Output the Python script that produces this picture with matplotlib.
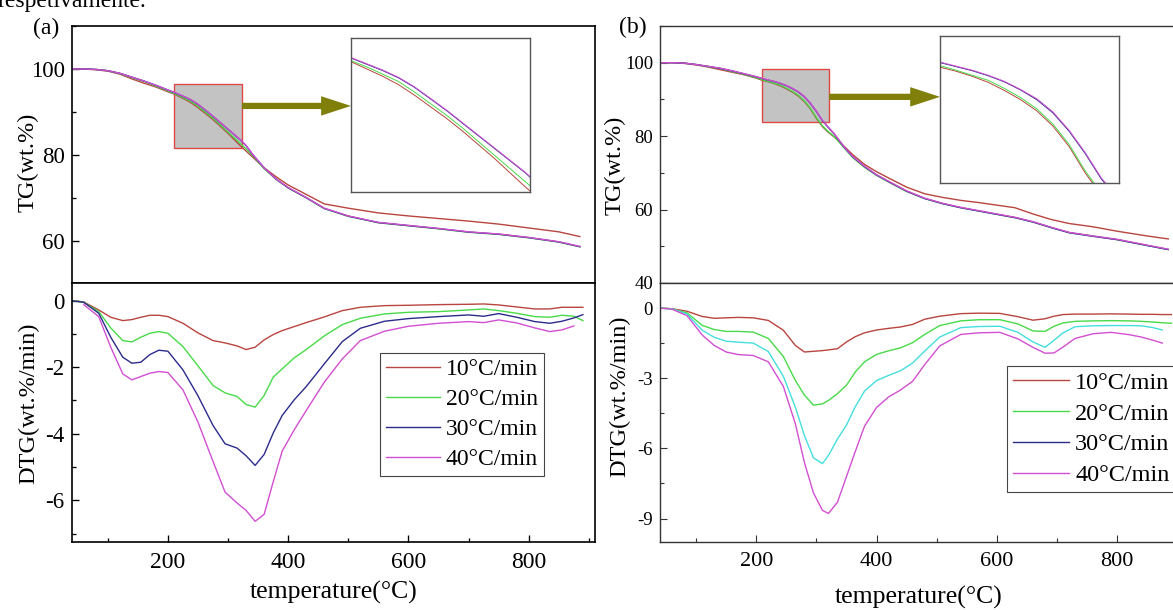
import numpy as np
import matplotlib
matplotlib.use("Agg")
import matplotlib.pyplot as plt
from matplotlib.patches import Rectangle, FancyArrowPatch
from matplotlib.lines import Line2D
from matplotlib.ticker import MultipleLocator

plt.rcParams['font.family'] = ['Liberation Serif', 'DejaVu Serif']
plt.rcParams['axes.unicode_minus'] = False

nan = np.nan

rates = ['10°C/min', '20°C/min', '30°C/min', '40°C/min']
colors = ['#b8453f', '#48da48', '#2b2b8c', '#d24fd2'] # 10, 20, 30, 40 C/min
cyan = '#45dede' # 30 C/min DTG curve in (b)

# ---- (a) TG ----
temp_a_tg = [40, 60, 80, 100, 120, 140, 160, 180, 200, 210, 220, 230, 240, 250, 260, 270, 280, 290, 300,
             310, 320, 330, 340, 360, 380, 400, 430, 460, 500, 550, 600, 650, 700, 750, 800, 850, 885]
tg_a_10 = [100, 100, 99.8, 99.5, 98.8, 97.7, 96.7, 95.8, 94.7, 94.2, 93.5, 92.8, 92.0, 91.0, 89.9, 88.8, 87.6, 86.3, 85.0,
           83.6, 82.2, 80.9, 79.6, 77.0, 74.9, 73.0, 70.8, 68.6, 67.6, 66.5, 65.8, 65.2, 64.6, 63.9, 63.0, 62.1, 61.0]
tg_a_20 = [100, 100, 99.9, 99.6, 98.9, 98.0, 97.1, 96.0, 94.9, 94.3, 93.7, 93.0, 92.3, 91.3, 90.2, 89.1, 87.9, 86.6, 85.3,
           84.0, 82.7, 81.4, 80.0, 76.8, 74.3, 72.3, 70.0, 67.5, 65.7, 64.2, 63.5, 62.8, 62.0, 61.5, 60.7, 59.7, 58.6]
tg_a_30 = [100, 100, 99.9, 99.6, 99.0, 98.1, 97.2, 96.2, 95.1, 94.55, 93.95, 93.35, 92.65, 91.75, 90.65, 89.55, 88.35, 87.15, 85.95,
           84.75, 83.55, 82.15, 80.25, 76.95, 74.35, 72.35, 70.05, 67.55, 65.75, 64.25, 63.55, 62.85, 62.05, 61.55, 60.75, 59.75, 58.65]
tg_a_40 = [100, 100, 99.9, 99.6, 99.0, 98.1, 97.2, 96.2, 95.1, 94.6, 94.0, 93.4, 92.7, 91.8, 90.7, 89.6, 88.4, 87.2, 86.0,
           84.8, 83.6, 82.2, 80.3, 77.0, 74.4, 72.4, 70.1, 67.6, 65.8, 64.3, 63.6, 62.9, 62.1, 61.6, 60.8, 59.8, 58.7]

# ---- (a) DTG ----
temp_a_dtg = [40, 60, 85, 105, 125, 140, 155, 170, 185, 200, 225, 250, 275, 295, 315, 330, 345, 360, 375,
              390, 410, 430, 460, 490, 520, 560, 600, 650, 700, 725, 750, 780, 810, 835, 855, 875, 890]
dtg_a_10 = [0, -0.04, -0.28, -0.5, -0.6, -0.57, -0.5, -0.44, -0.44, -0.48, -0.68, -0.97, -1.2, -1.27, -1.36, -1.47, -1.4, -1.18, -1.02,
            -0.9, -0.78, -0.66, -0.49, -0.3, -0.2, -0.15, -0.14, -0.12, -0.11, -0.1, -0.13, -0.19, -0.25, -0.25, -0.2, -0.2, -0.2]
dtg_a_20 = [0, -0.05, -0.33, -0.82, -1.2, -1.24, -1.1, -0.98, -0.93, -0.98, -1.38, -1.96, -2.55, -2.77, -2.88, -3.12, -3.2, -2.85, -2.3,
            -2.05, -1.72, -1.47, -1.06, -0.72, -0.53, -0.4, -0.35, -0.33, -0.28, -0.25, -0.3, -0.38, -0.48, -0.5, -0.44, -0.47, -0.6]
dtg_a_30 = [0, -0.05, -0.38, -1.1, -1.7, -1.88, -1.85, -1.62, -1.49, -1.52, -2.08, -2.86, -3.75, -4.3, -4.43, -4.66, -4.95, -4.62, -3.98,
            -3.45, -2.98, -2.58, -1.9, -1.23, -0.83, -0.62, -0.54, -0.48, -0.43, -0.47, -0.39, -0.5, -0.63, -0.68, -0.62, -0.52, -0.42]
dtg_a_40 = [nan, -0.12, -0.48, -1.4, -2.2, -2.38, -2.28, -2.18, -2.13, -2.16, -2.68, -3.65, -4.83, -5.75, -6.08, -6.3, -6.63, -6.42, -5.45,
            -4.52, -3.88, -3.3, -2.45, -1.75, -1.2, -0.92, -0.77, -0.68, -0.63, -0.66, -0.58, -0.67, -0.82, -0.93, -0.88, -0.76, nan]

# ---- (b) TG ----
temp_b_tg = [40, 60, 80, 100, 120, 140, 160, 180, 200, 210, 220, 230, 240, 250, 260, 270, 280, 290, 300, 310, 320,
             330, 345, 360, 380, 400, 420, 450, 480, 510, 540, 570, 600, 630, 660, 690, 720, 760, 800, 850, 885]
tg_b_10 = [100, 100, 99.8, 99.4, 98.8, 98.1, 97.4, 96.7, 95.8, 95.2, 94.8, 94.3, 93.7, 92.9, 92.0, 90.9, 89.4, 87.4, 84.8, 82.6, 81.0,
           79.7, 77.4, 75.0, 72.3, 70.3, 68.6, 66.1, 64.3, 63.3, 62.5, 61.9, 61.2, 60.5, 58.8, 57.3, 56.2, 55.3, 54.1, 52.8, 52.0]
tg_b_20 = [100, 100, 99.9, 99.5, 98.9, 98.4, 97.6, 96.8, 95.9, 95.35, 94.9, 94.4, 93.9, 93.1, 92.2, 91.1, 89.6, 87.6, 85.0, 82.8, 81.2,
           79.8, 77.0, 74.2, 71.5, 69.3, 67.5, 64.9, 63.0, 61.6, 60.5, 59.6, 58.7, 57.8, 56.6, 55.1, 53.7, 52.8, 51.8, 50.2, 49.1]
tg_b_30 = [100, 100, 99.9, 99.5, 99.0, 98.45, 97.75, 96.95, 96.15, 95.65, 95.25, 94.85, 94.35, 93.75, 92.95, 92.0, 90.7, 88.9, 86.7, 84.2, 82.3,
           80.5, 77.2, 74.4, 71.7, 69.4, 67.6, 65.0, 63.0, 61.6, 60.5, 59.6, 58.7, 57.8, 56.6, 55.1, 53.7, 52.7, 51.8, 50.2, 49.1]
tg_b_40 = [100, 100, 99.9, 99.5, 99.0, 98.5, 97.8, 97.0, 96.2, 95.7, 95.3, 94.9, 94.4, 93.8, 93.0, 92.1, 90.8, 89.0, 86.8, 84.3, 82.4,
           80.6, 77.3, 74.5, 71.8, 69.5, 67.7, 65.1, 63.1, 61.7, 60.6, 59.7, 58.8, 57.9, 56.7, 55.2, 53.8, 52.8, 51.9, 50.3, 49.2]

# ---- (b) DTG ----
temp_b_dtg = [40, 60, 85, 110, 130, 150, 170, 195, 220, 245, 265, 280, 295, 310, 320, 335, 350, 365, 380, 400, 420,
              440, 460, 480, 505, 540, 570, 605, 635, 660, 680, 695, 710, 730, 760, 790, 820, 840, 860, 875, 890]
dtg_b_10 = [0, -0.03, -0.14, -0.36, -0.44, -0.42, -0.4, -0.42, -0.53, -0.95, -1.6, -1.88, -1.85, -1.82, -1.79, -1.74, -1.45, -1.22, -1.06, -0.94, -0.87,
            -0.81, -0.7, -0.48, -0.35, -0.24, -0.22, -0.23, -0.37, -0.52, -0.46, -0.35, -0.28, -0.26, -0.26, -0.25, -0.26, -0.27, -0.27, -0.28, -0.28]
dtg_b_20 = [0, -0.04, -0.21, -0.74, -0.92, -1.0, -1.0, -1.03, -1.3, -2.07, -3.1, -3.72, -4.15, -4.1, -3.95, -3.66, -3.3, -2.72, -2.3, -1.98, -1.83,
            -1.7, -1.48, -1.13, -0.75, -0.55, -0.5, -0.5, -0.68, -0.98, -1.0, -0.78, -0.64, -0.57, -0.55, -0.54, -0.55, -0.57, -0.6, -0.63, -0.65]
dtg_b_30 = [0, -0.04, -0.26, -0.95, -1.25, -1.42, -1.46, -1.5, -1.86, -2.92, -4.24, -5.45, -6.4, -6.65, -6.3, -5.6, -5.0, -4.2, -3.55, -3.1, -2.88,
            -2.68, -2.35, -1.84, -1.24, -0.84, -0.79, -0.78, -1.04, -1.45, -1.68, -1.38, -1.06, -0.8, -0.76, -0.75, -0.75, -0.76, -0.84, -0.94, nan]
dtg_b_40 = [0, -0.05, -0.33, -1.15, -1.6, -1.88, -1.99, -2.03, -2.3, -3.35, -4.95, -6.6, -7.9, -8.65, -8.78, -8.3, -7.2, -6.1, -5.05, -4.25, -3.8,
            -3.5, -3.13, -2.42, -1.62, -1.13, -1.06, -1.04, -1.32, -1.68, -1.93, -1.92, -1.67, -1.3, -1.1, -1.04, -1.14, -1.24, -1.38, -1.5, nan]

# zoom window shown in the inset: (T min, T max, TG min, TG max) and height of the arrow
zoom_a = (210, 323, 81.7, 96.5)
zoom_b = (210, 321, 83.8, 98.3)
arrow_a = 91.4
arrow_b = 90.7

fig = plt.figure(figsize=(11.73, 6.10), dpi=100)

# text line from the page above the figure
fig.text(-0.002, 0.9885, 'respetivamente.', fontsize=17, ha='left', va='baseline')


def style(ax, lw, ec, size_x, size_y):
    for s in ax.spines.values():
        s.set_linewidth(lw)
        s.set_edgecolor(ec)
    ax.tick_params(which='both', direction='in', top=False, right=False, color=ec, width=lw*0.8)
    ax.tick_params(which='major', length=5)
    ax.tick_params(which='minor', length=3)
    ax.tick_params(axis='x', labelsize=size_x, pad=7)
    ax.tick_params(axis='y', labelsize=size_y, pad=5)


def panel(x0, tg_t, tg_list, dtg_t, dtg_list, dtg_colors, zoom, arrow_y, inset_pos,
          tg_lim, tg_step, dtg_lim, dtg_step, spine_lw, spine_c, sx, sy, labpos, legpos, legsize):
    w = 0.4461
    ax1 = fig.add_axes([x0, 0.5361, w, 0.4213])
    ax2 = fig.add_axes([x0, 0.1115, w, 0.4246])

    for y, c in zip(tg_list, colors):
        ax1.plot(tg_t, y, color=c, lw=1.0)
    for y, c in zip(dtg_list, dtg_colors):
        ax2.plot(dtg_t, y, color=c, lw=1.0)

    for ax in (ax1, ax2):
        ax.set_xlim(40, 910)
        ax.xaxis.set_major_locator(MultipleLocator(200))
        ax.xaxis.set_minor_locator(MultipleLocator(100))
        style(ax, spine_lw, spine_c, sx, sy)
    ax1.tick_params(axis='x', which='both', bottom=False, labelbottom=False)

    ax1.yaxis.set_major_locator(MultipleLocator(tg_step))
    ax1.yaxis.set_minor_locator(MultipleLocator(tg_step / 2))
    ax1.set_ylim(*tg_lim)
    ax2.set_yticks(np.arange(0, dtg_lim[0], -dtg_step))
    ax2.yaxis.set_minor_locator(MultipleLocator(dtg_step / 2))
    ax2.set_ylim(*dtg_lim)

    ax1.set_ylabel('TG(wt.%)', fontsize=17.5)
    ax2.set_ylabel('DTG(wt.%/min)', fontsize=17.5)
    ax2.set_xlabel('temperature(°C)', fontsize=18.5)
    ax1.yaxis.set_label_coords(*labpos[0])
    ax2.yaxis.set_label_coords(*labpos[1])
    ax2.xaxis.set_label_coords(*labpos[2])

    # gray zoom window and arrow to the inset
    t0, t1, g0, g1 = zoom
    ax1.add_patch(Rectangle((t0, g0), t1 - t0, g1 - g0, facecolor='#c3c3c3', edgecolor='#e04848', lw=1.0, zorder=1))
    ins = fig.add_axes(inset_pos)
    x_tip = ax1.transData.inverted().transform(fig.transFigure.transform((inset_pos[0], 0)))[0]
    ax1.add_patch(FancyArrowPatch((t1, arrow_y), (x_tip, arrow_y),
                                  arrowstyle='simple,head_length=2.15,head_width=1.4,tail_width=0.45',
                                  mutation_scale=10, color='#7f7f0a', lw=0, shrinkA=0, shrinkB=0,
                                  zorder=5, clip_on=False))
    for y, c in zip(tg_list, colors):
        ins.plot(tg_t, y, color=c, lw=0.7)
    ins.set_xlim(t0, t1)
    ins.set_ylim(g0, g1)
    ins.set_xticks([])
    ins.set_yticks([])
    for s in ins.spines.values():
        s.set_edgecolor('#555555')
        s.set_linewidth(1.0)

    handles = [Line2D([], [], color=c, lw=1.0) for c in colors]
    leg = ax2.legend(handles, rates, loc='upper left', bbox_to_anchor=legpos, borderaxespad=0,
                     fontsize=legsize, frameon=True, fancybox=False, framealpha=1, edgecolor='#444444',
                     handlelength=2.3, handletextpad=0.25, labelspacing=0.36, borderpad=0.25)
    leg.get_frame().set_linewidth(0.8)
    return ax1, ax2


panel(0.0611, temp_a_tg, [tg_a_10, tg_a_20, tg_a_30, tg_a_40],
      temp_a_dtg, [dtg_a_10, dtg_a_20, dtg_a_30, dtg_a_40], colors,
      zoom_a, arrow_a, [0.2992, 0.6852, 0.1526, 0.253],
      (50.2, 110), 20, (-7.25, 0.53), 2, 1.2, 'black', 17, 16.5,
      [(-0.064, 0.47), (-0.062, 0.537), (0.5, -0.15)], (0.589, 0.73), 17)

panel(0.5627, temp_b_tg, [tg_b_10, tg_b_20, tg_b_30, tg_b_40],
      temp_b_dtg, [dtg_b_10, dtg_b_20, dtg_b_30, dtg_b_40], [colors[0], colors[1], cyan, colors[3]],
      zoom_b, arrow_b, [0.8014, 0.70, 0.1526, 0.2415],
      (40, 110), 20, (-10, 1.07), 3, 1.0, '#333333', 16, 13.5,
      [(-0.065, 0.459), (-0.057, 0.564), (0.495, -0.17)], (0.663, 0.68), 17.5)

fig.text(0.0392, 0.954, '(a)', fontsize=17, ha='center', va='center')
fig.text(0.5396, 0.9557, '(b)', fontsize=17, ha='center', va='center')

plt.savefig('out.png', dpi=100)
